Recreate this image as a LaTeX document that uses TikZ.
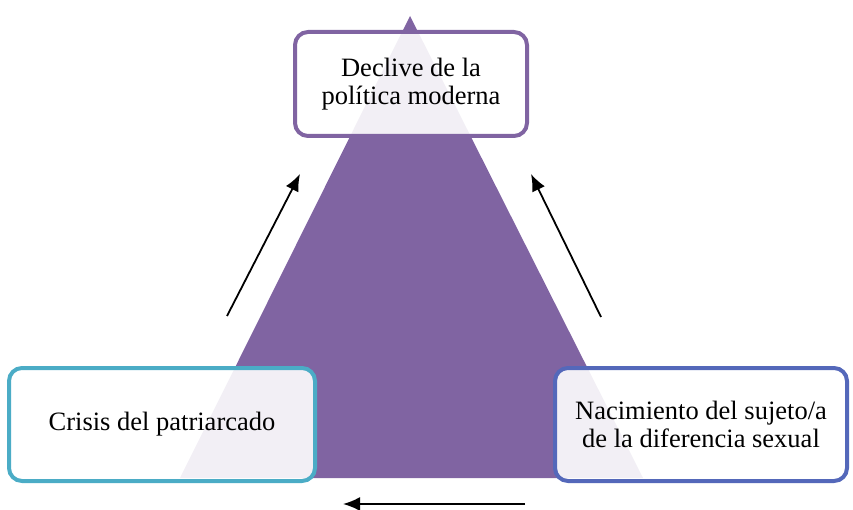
\documentclass[tikz,border=0pt]{standalone}
\usepackage{fontspec}
\setmainfont{Liberation Serif}
\usetikzlibrary{arrows.meta}
\definecolor{trianglepurple}{RGB}{128,100,162}
\definecolor{boxteal}{RGB}{75,172,198}
\definecolor{boxblue}{RGB}{84,104,186}
\begin{document}
\begin{tikzpicture}[x=1pt,y=-1pt,>={Latex[length=17pt,width=14pt]},
    box/.style={draw,line width=4pt,rounded corners=13pt,fill=white,
        fill opacity=0.9,text opacity=1,align=center,inner sep=0pt,
        font=\fontsize{26.5}{28.5}\selectfont}]

        \useasboundingbox (0,0) rectangle (853,510);

        \fill[trianglepurple] (410,16) -- (643,478) -- (180,478) -- cycle;

        \node[box,draw=trianglepurple,minimum width=232pt,minimum height=104pt]
            (politica) at (411,84) {Declive de la\\política moderna};
        \node[box,draw=boxteal,minimum width=306pt,minimum height=113pt]
            (patriarcado) at (162,424.5) {Crisis del patriarcado};
        \node[box,draw=boxblue,minimum width=292pt,minimum height=113pt]
            (sujeto) at (701,424.5) {Nacimiento del sujeto/a\\de la diferencia sexual};

        \coordinate (izqA) at (227,316);
        \coordinate (izqB) at (300,174);
        \coordinate (derA) at (601,317);
        \coordinate (derB) at (531,174);
        \coordinate (abaA) at (525,504);
        \coordinate (abaB) at (343,504);

        \draw[->,line width=1.8pt] (izqA) -- (izqB);
        \draw[->,line width=1.8pt] (derA) -- (derB);
        \draw[->,line width=1.8pt] (abaA) -- (abaB);
    \end{tikzpicture}
\end{document}
